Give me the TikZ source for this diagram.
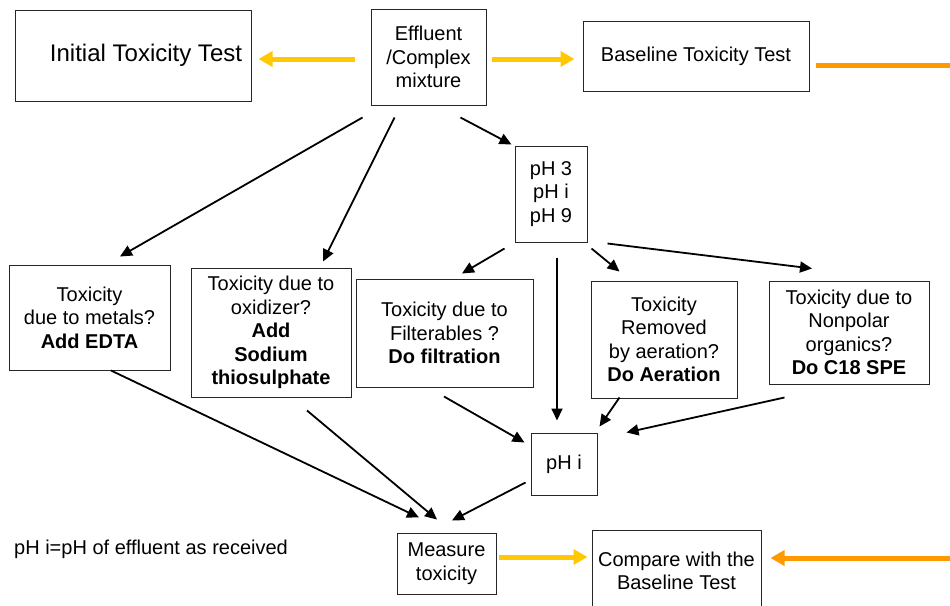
\documentclass[tikz,border=0pt]{standalone}
\usepackage{fontspec}
\setmainfont{Liberation Sans}
\usetikzlibrary{arrows.meta,calc}
\definecolor{ylw}{RGB}{255,200,0}
\definecolor{org}{RGB}{255,153,0}
\begin{document}
\begin{tikzpicture}[x=1pt,y=-1pt,
  box/.style={draw=black!85,line width=1pt,inner sep=0pt,align=center,font=\fontsize{20}{23.5}\selectfont},
  arr/.style={line width=1.8pt,-{Triangle[length=12pt,width=11pt]}},
  yarr/.style={draw=ylw,line width=5pt,-{Triangle[length=14pt,width=15pt]}},
  oarr/.style={draw=org,line width=5pt,-{Triangle[length=14pt,width=15pt]}}]
\useasboundingbox (0,0) rectangle (950,605);
% boxes
\node[box,minimum width=236pt,minimum height=91pt,font=\fontsize{24}{27}\selectfont] (init) at (133,55.5) {\hspace*{26pt}Initial Toxicity Test};
\node[box,minimum width=115pt,minimum height=96pt] (eff) at (428.5,57) {Effluent\\/Complex\\mixture};
\node[box,minimum width=226pt,minimum height=70pt] (base) at (696,56) {Baseline Toxicity Test};
\node[box,minimum width=72pt,minimum height=96pt] (ph) at (551,194) {pH 3\\pH i\\pH 9};
\node[box,minimum width=161pt,minimum height=105pt] (met) at (89.5,317.5) {Toxicity\\due to metals?\\\textbf{Add EDTA}};
\node[box,minimum width=160pt,minimum height=129pt] (oxi) at (271,332.5) {Toxicity due to\\oxidizer?\\\textbf{Add}\\\textbf{Sodium}\\\textbf{thiosulphate}};
\node[box,minimum width=177pt,minimum height=108pt] (filt) at (444.5,333) {Toxicity due to\\Filterables ?\\\textbf{Do filtration}};
\node[box,minimum width=146pt,minimum height=117pt] (aer) at (664,339.5) {Toxicity\\Removed\\by aeration?\\\textbf{Do Aeration}};
\node[box,minimum width=160pt,minimum height=103pt] (np) at (849,332.5) {Toxicity due to\\Nonpolar\\organics?\\\textbf{Do C18 SPE}};
\node[box,minimum width=66pt,minimum height=62pt] (phi) at (564,464) {pH i};
\node[box,minimum width=99pt,minimum height=61pt] (meas) at (446.5,563.5) {Measure\\toxicity};
\node[box,minimum width=169pt,minimum height=82pt] (cmp) at (676.5,571) {Compare with the\\Baseline Test};
\node[anchor=west,inner sep=0pt,font=\fontsize{20}{23}\selectfont] (note) at (14,549) {pH i=pH of effluent as received};
% edge coordinates
\coordinate (redge1) at (950,65);
\coordinate (redge2) at (950,558);
% yellow / orange arrows
\draw[yarr] ($(eff.west)+(-16,2)$) -- ($(init.east)+(7,3.5)$);
\draw[yarr] ($(eff.east)+(5,2)$) -- ($(base.west)+(-8,3)$);
\draw[draw=org,line width=5pt] ($(base.east)+(6,9)$) -- (redge1);
\draw[yarr] ($(meas.east)+(2,-6.5)$) -- ($(cmp.west)+(-4,-14)$);
\draw[oarr] (redge2) -- ($(cmp.east)+(9,-13)$);
% black arrows
\draw[arr] ($(eff.south west)+(-8,12)$) -- ($(met.north)+(30.5,-8)$);
\draw[arr] ($(eff.south west)+(24,12)$) -- ($(oxi.north)+(52,-6)$);
\draw[arr] ($(eff.south east)+(-26,12)$) -- ($(ph.north west)+(-3,-1)$);
\draw[arr] ($(ph.south west)+(-10,6)$) -- ($(filt.north)+(17.5,-5)$);
\draw[arr] ($(ph.south)+(6,15)$) -- ($(phi.north)+(-7,-12)$);
\draw[arr] ($(ph.south east)+(4,6)$) -- ($(aer.north west)+(29,-9)$);
\draw[arr] ($(ph.south east)+(20,1)$) -- ($(np.north)+(-37,-12)$);
\draw[arr] ($(met.south)+(21.5,0)$) -- ($(meas.north)+(-27.5,-15)$);
\draw[arr] ($(oxi.south)+(36,13)$) -- ($(meas.north)+(-9.5,-13)$);
\draw[arr] ($(filt.south)+(-0.5,9)$) -- ($(phi.north west)+(-6,10)$);
\draw[arr] ($(aer.south west)+(29,-1)$) -- ($(phi.north east)+(2,-6)$);
\draw[arr] ($(np.south west)+(16,13)$) -- ($(phi.north east)+(29,0)$);
\draw[arr] ($(phi.south west)+(-5,-13)$) -- ($(meas.north)+(5.5,-12)$);
\end{tikzpicture}
\end{document}
